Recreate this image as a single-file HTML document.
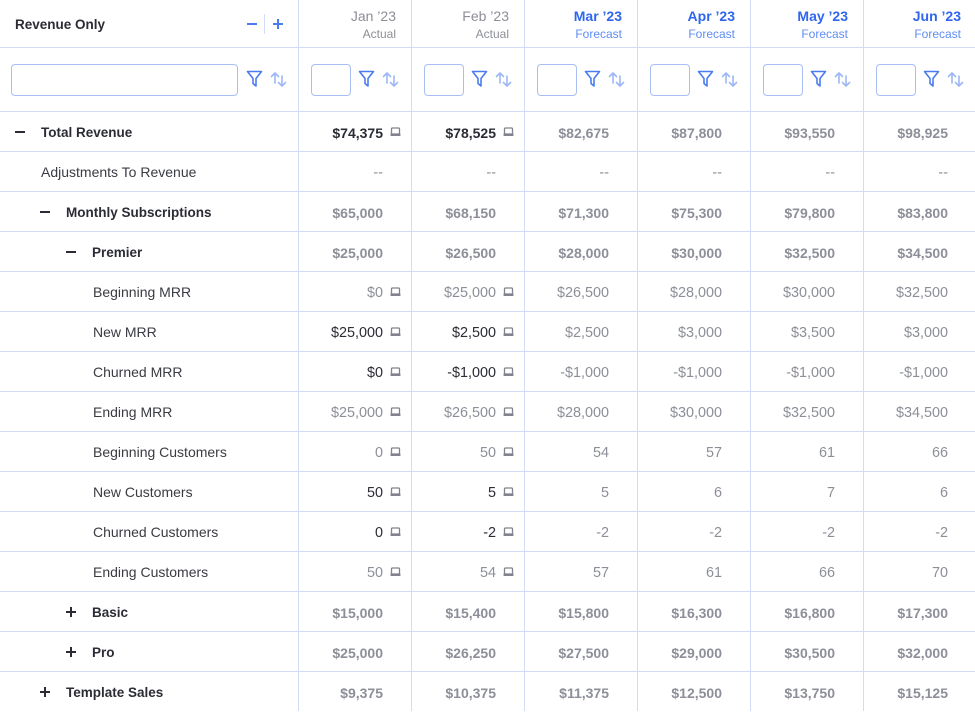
<!DOCTYPE html>
<html><head><meta charset="utf-8">
<style>
*{margin:0;padding:0;box-sizing:border-box}
body{width:975px;height:711px;overflow:hidden;background:#fff;font-family:"Liberation Sans",Arial,sans-serif;position:relative;color:#2b2c34}
.vl{position:absolute;top:0;width:1px;height:711px;background:#d2dcf7}
.hl{position:absolute;left:0;width:975px;height:1px;background:#d2dcf7}
.t{position:absolute;white-space:nowrap;font-size:14px}
.v{position:absolute;width:113px;text-align:right;padding-right:28px;font-size:14.4px;line-height:40px;white-space:nowrap}
.ic{position:absolute;width:11px;height:10px}
.ic svg{display:block}
.box{position:absolute;border:1px solid #a8bff5;border-radius:4px;height:32px;top:64px}
.sym{position:absolute;background:#2b2c34}
</style></head><body>

<div class="t" style="left:15px;top:17px;font-size:13.5px;font-weight:bold">Revenue Only</div>
<div style="position:absolute;left:247px;top:23px;width:10px;height:2px;background:#4a7cf0"></div>
<div style="position:absolute;left:264px;top:14px;width:1px;height:20px;background:#d2dcf7"></div>
<div style="position:absolute;left:273px;top:23px;width:10px;height:2px;background:#4a7cf0"></div>
<div style="position:absolute;left:277px;top:19px;width:2px;height:10px;background:#4a7cf0"></div>

<div class="box" style="left:11px;width:227px"></div>

<div id="grid"></div>

<script>
var cols=[298,411,524,637,750,863];
var out='';
cols.forEach(function(x){out+='<div class="vl" style="left:'+x+'px"></div>';});
out+='<div class="hl" style="top:47px"></div>';
for(var k=0;k<15;k++){out+='<div class="hl" style="top:'+(111+40*k)+'px"></div>';}
var hd=[["Jan \u201923","Actual",0],["Feb \u201923","Actual",0],["Mar \u201923","Forecast",1],["Apr \u201923","Forecast",1],["May \u201923","Forecast",1],["Jun \u201923","Forecast",1]];
var funnel=function(x,y){return '<svg style="position:absolute;left:'+x+'px;top:'+y+'px" width="17" height="18" viewBox="0 0 17 18"><path d="M1.5 1.5 H15.5 L10 8.5 V16 L7 13.5 V8.5 Z" fill="none" stroke="#4a7cf0" stroke-width="1.6" stroke-linejoin="round"/></svg>';};
var arrows=function(x,y){return '<svg style="position:absolute;left:'+x+'px;top:'+y+'px" width="17" height="17" viewBox="0 0 17 17"><g fill="none" stroke="#9db7f6" stroke-width="1.6" stroke-linecap="round" stroke-linejoin="round"><path d="M5 12 V2 M1.5 5.5 L5 2 L8.5 5.5"/><path d="M12 5 V15 M8.5 11.5 L12 15 L15.5 11.5"/></g></svg>';};
out+=funnel(246,70)+arrows(270,71);
cols.forEach(function(x,i){
  var h=hd[i];
  var c1=h[2]?'color:#2f66ee;font-weight:bold':'color:#8d8f98';
  var c2=h[2]?'color:#5f8df3':'color:#8d8f98';
  out+='<div class="t" style="left:'+x+'px;width:113px;text-align:right;padding-right:15px;top:8px;font-size:14px;'+c1+'">'+h[0]+'</div>';
  out+='<div class="t" style="left:'+x+'px;width:113px;text-align:right;padding-right:15px;top:27px;font-size:12px;'+c2+'">'+h[1]+'</div>';
  out+='<div class="box" style="left:'+(x+13)+'px;width:40px"></div>';
  out+=funnel(x+60,70)+arrows(x+84,71);
});
var icon='<svg width="11" height="10" viewBox="0 0 11 10"><rect x="1.5" y="1" width="8" height="6" rx="1" fill="none" stroke="#80828c" stroke-width="1.3"/><rect x="0.5" y="6.5" width="10" height="2.5" rx="0.5" fill="#80828c"/></svg>';
var rows=[
 ["Total Revenue",41,"-",1,["$74,375","$78,525","$82,675","$87,800","$93,550","$98,925"],"db",1],
 ["Adjustments To Revenue",41,"",0,["--","--","--","--","--","--"],"g",0],
 ["Monthly Subscriptions",66,"-",1,["$65,000","$68,150","$71,300","$75,300","$79,800","$83,800"],"gb",0],
 ["Premier",92,"-",1,["$25,000","$26,500","$28,000","$30,000","$32,500","$34,500"],"gb",0],
 ["Beginning MRR",93,"",0,["$0","$25,000","$26,500","$28,000","$30,000","$32,500"],"g",1],
 ["New MRR",93,"",0,["$25,000","$2,500","$2,500","$3,000","$3,500","$3,000"],"d",1],
 ["Churned MRR",93,"",0,["$0","-$1,000","-$1,000","-$1,000","-$1,000","-$1,000"],"d",1],
 ["Ending MRR",93,"",0,["$25,000","$26,500","$28,000","$30,000","$32,500","$34,500"],"g",1],
 ["Beginning Customers",93,"",0,["0","50","54","57","61","66"],"g",1],
 ["New Customers",93,"",0,["50","5","5","6","7","6"],"d",1],
 ["Churned Customers",93,"",0,["0","-2","-2","-2","-2","-2"],"d",1],
 ["Ending Customers",93,"",0,["50","54","57","61","66","70"],"g",1],
 ["Basic",92,"+",1,["$15,000","$15,400","$15,800","$16,300","$16,800","$17,300"],"gb",0],
 ["Pro",92,"+",1,["$25,000","$26,250","$27,500","$29,000","$30,500","$32,000"],"gb",0],
 ["Template Sales",66,"+",1,["$9,375","$10,375","$11,375","$12,500","$13,750","$15,125"],"gb",0]
];
rows.forEach(function(r,k){
  var top=112+40*k;
  var lc=r[3]?'color:#2b2c34;font-weight:bold;font-size:13.5px':'color:#3a3b43;font-size:14px';
  var off=r[3]?1:0;
  out+='<div class="t" style="left:'+r[1]+'px;top:'+(top+off)+'px;line-height:40px;'+lc+'">'+r[0]+'</div>';
  var cy=top+19;
  var sx=r[1]-26;
  if(r[2]){
    out+='<div class="sym" style="left:'+sx+'px;top:'+(cy)+'px;width:10px;height:2px"></div>';
    if(r[2]=='+') out+='<div class="sym" style="left:'+(sx+4)+'px;top:'+(cy-4)+'px;width:2px;height:10px"></div>';
  }
  r[4].forEach(function(v,i){
    var x=cols[i];
    var st;
    if(i<2){
      if(r[5]=='db') st='color:#2b2c34;font-weight:bold;font-size:14px';
      else if(r[5]=='gb') st='color:#8d8f98;font-weight:bold;font-size:14px';
      else if(r[5]=='d') st='color:#2b2c34';
      else st='color:#8d8f98';
    } else {
      st='color:#8d8f98'+((r[5]=='db'||r[5]=='gb')?';font-weight:bold;font-size:14px':'');
    }
    out+='<div class="v" style="left:'+x+'px;top:'+(top+1)+'px;'+st+'">'+v+'</div>';
    if(i<2 && r[6]) out+='<div class="ic" style="left:'+(x+92)+'px;top:'+(cy-4)+'px">'+icon+'</div>';
  });
});
document.getElementById('grid').innerHTML=out;
</script>
</body></html>
